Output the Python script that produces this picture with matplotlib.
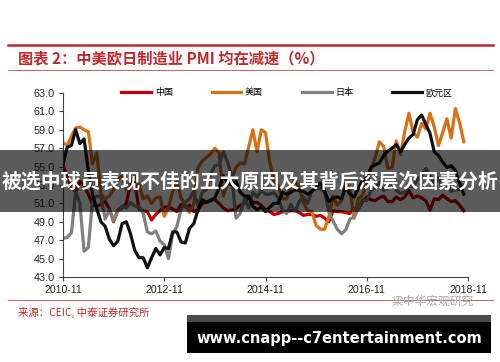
import numpy as np
import matplotlib
matplotlib.use("Agg")
import matplotlib.pyplot as plt
from matplotlib.patches import Rectangle
from matplotlib.lines import Line2D

plt.rcParams['font.family'] = ['Liberation Sans', 'Noto Sans CJK SC', 'DejaVu Sans']
CJK = ['Noto Sans CJK SC', 'DejaVu Sans']

# monthly PMI, 2010-11 .. 2018-10
china = [55.2, 53.9,
         52.9, 52.2, 53.4, 52.9, 52.0, 50.9, 50.7, 50.9, 51.2, 50.4, 49.0, 50.3,
         50.5, 51.0, 53.1, 53.3, 50.4, 50.2, 50.1, 49.2, 49.8, 50.2, 50.6, 50.6,
         50.4, 50.1, 50.9, 50.6, 50.8, 50.1, 50.3, 51.0, 51.1, 51.4, 51.4, 51.0,
         50.5, 50.2, 50.3, 50.4, 50.8, 51.0, 51.7, 51.1, 51.1, 50.8, 50.3, 50.1,
         49.8, 49.9, 50.1, 50.1, 50.2, 50.2, 50.0, 49.7, 49.8, 49.8, 49.6, 49.7,
         49.4, 49.0, 50.2, 50.1, 50.1, 50.0, 49.9, 50.4, 50.4, 51.2, 51.7, 51.4,
         51.3, 51.6, 51.8, 51.2, 51.2, 51.7, 51.4, 51.7, 52.4, 51.6, 51.8, 51.6,
         51.3, 50.3, 51.5, 51.4, 51.9, 51.5, 51.2, 51.3, 50.8, 50.2]
usa = [57.6, 57.3,
       58.3, 59.2, 59.3, 59.0, 58.8, 55.3, 56.5, 52.0, 51.5, 51.8, 52.5, 53.5,
       54.0, 52.5, 53.4, 54.0, 53.0, 51.5, 51.8, 51.0, 51.6, 51.7, 49.6, 50.5,
       52.3, 53.3, 51.6, 50.8, 50.0, 51.0, 54.9, 55.6, 56.0, 56.4, 57.0, 56.5,
       51.8, 53.2, 53.7, 54.9, 55.4, 55.3, 57.1, 59.0, 56.6, 59.0, 58.7, 55.5,
       53.5, 52.9, 51.5, 51.5, 52.8, 53.5, 52.7, 51.1, 50.2, 50.1, 48.6, 48.2,
       48.2, 49.5, 51.8, 50.8, 51.3, 53.2, 52.6, 49.4, 51.5, 51.9, 53.2, 54.7,
       56.0, 57.7, 57.2, 54.8, 54.9, 57.8, 56.3, 58.8, 60.8, 58.7, 58.2, 59.7,
       59.1, 60.8, 59.3, 57.3, 58.7, 60.2, 58.1, 61.3, 59.8, 57.7]
japan = [47.2, 47.3,
         47.8, 52.3, 51.0, 45.8, 46.2, 51.3, 51.8, 51.7, 49.3, 50.3, 49.1, 50.2,
         50.7, 50.5, 51.1, 50.7, 50.7, 49.9, 47.9, 47.7, 48.0, 46.9, 46.5, 45.0,
         47.7, 48.5, 50.4, 51.1, 51.5, 52.3, 50.7, 52.2, 52.5, 54.2, 55.1, 55.2,
         56.6, 55.5, 53.9, 49.4, 49.9, 51.5, 50.5, 52.2, 51.7, 52.4, 52.0, 52.0,
         52.2, 51.6, 50.3, 49.9, 50.9, 50.1, 51.2, 51.7, 51.0, 52.4, 52.6, 52.6,
         52.3, 50.1, 49.1, 48.2, 47.7, 48.1, 49.3, 49.5, 50.4, 51.4, 51.3, 52.4,
         52.7, 53.3, 52.4, 52.7, 53.1, 52.4, 52.1, 52.2, 52.9, 52.8, 53.6, 54.0,
         54.8, 54.1, 53.1, 53.8, 52.8, 53.0, 52.3, 52.5, 52.5, 52.9]
euro = [55.3, 57.1,
        57.3, 59.0, 57.5, 58.0, 54.6, 52.0, 50.4, 49.0, 48.5, 47.1, 46.4, 46.9,
        48.8, 49.0, 47.7, 45.9, 45.1, 45.1, 44.0, 45.1, 46.1, 45.4, 46.2, 46.1,
        47.9, 47.9, 46.8, 46.7, 48.3, 48.8, 50.3, 51.4, 51.1, 51.3, 51.6, 52.7,
        54.0, 53.2, 53.0, 53.4, 52.2, 51.8, 51.8, 50.7, 50.3, 50.6, 50.1, 50.6,
        51.0, 51.0, 52.2, 52.0, 52.2, 52.5, 52.4, 52.3, 52.0, 52.3, 52.8, 53.2,
        52.3, 51.2, 51.6, 51.7, 51.5, 52.8, 52.0, 51.7, 52.6, 53.5, 53.7, 54.9,
        55.2, 55.4, 56.2, 56.7, 57.0, 57.4, 56.6, 57.4, 58.1, 58.5, 60.1, 60.6,
        59.6, 58.6, 56.6, 56.2, 55.5, 54.9, 55.1, 54.6, 53.2, 52.0]

names = ['中国', '美国', '日本', '欧元区']
colors = ['#C00000', '#D97016', '#7F7F7F', '#111111']
tick_labels = ['2010-11', '2012-11', '2014-11', '2016-11', '2018-11']

x = np.arange(len(china))

fig = plt.figure(figsize=(5, 3.62), dpi=100)
ax = fig.add_axes([0.126, 0.2348, 0.81, 0.5083])

for s, n, c in zip([china, usa, japan, euro], names, colors):
    ax.plot(x, s, color=c, lw=2.3, label=n)

ax.set_xlim(0, 96)
ax.set_ylim(43, 63)
ax.set_yticks(np.arange(43, 63.1, 2))
ax.set_yticklabels([f'{v:.1f}' for v in np.arange(43, 63.1, 2)], fontsize=7.8, color='#222222')
ax.set_xticks([0, 24, 48, 72, 96])
ax.set_xticklabels(tick_labels, fontsize=7.6, color='#222222')
ax.tick_params(axis='both', length=3, width=0.8, color='#444444', pad=3)
for sp in ['top', 'right']:
    ax.spines[sp].set_visible(False)
for sp in ['left', 'bottom']:
    ax.spines[sp].set_color('#444444')
    ax.spines[sp].set_linewidth(0.8)

leg = ax.legend(loc='center', bbox_to_anchor=(0.553, 1.0), ncol=4, frameon=False,
                handlelength=3.3, handletextpad=0.4, columnspacing=4.3,
                prop={'family': CJK, 'size': 6.5})

# header / footer decoration
red = '#C0282D'
fig.add_artist(Line2D([8/500, 493/500], [1-45/362]*2, color=red, lw=1.8))
fig.add_artist(Line2D([8/500, 493/500], [1-70/362]*2, color='#C86060', lw=0.7))
fig.add_artist(Line2D([8/500, 493/500], [1-300/362]*2, color='#C86060', lw=0.7))
fig.text(18/500, 1-58/362, '图表 2：中美欧日制造业 PMI 均在减速（%）', color=red,
         fontsize=11, fontweight='bold', family=CJK, va='center', ha='left')
fig.text(18/500, 1-312/362, '来源：CEIC, 中泰证券研究所', color=red,
         fontsize=7.5, family=CJK, va='center', ha='left')
fig.text(392/500, 1-301/362, '梁中华宏观研究', color='#AAAAAA',
         fontsize=8.5, family=CJK, va='center', ha='left')

# overlay banner
fig.add_artist(Rectangle((0, 1-212/362), 1, 62/362, transform=fig.transFigure,
                         facecolor='black', alpha=0.64, edgecolor='none', zorder=10))
fig.text(0.5, 1-181/362, '被选中球员表现不佳的五大原因及其背后深层次因素分析', color='white',
         fontsize=14.3, fontweight='bold', family=CJK, ha='center', va='center', zorder=11)

# bottom box
fig.add_artist(Rectangle((187/500, 1-353/362), 304/500, 38/362, transform=fig.transFigure,
                         facecolor='black', edgecolor='none', zorder=10))
fig.add_artist(Rectangle((187/500, 1-322/362), 304/500, 7/362, transform=fig.transFigure,
                         facecolor='#4A4A4A', edgecolor='none', zorder=10))
fig.text(339/500, 1-338/362, 'www.cnapp--c7entertainment.com', color='white',
         fontsize=10.5, fontweight='bold', family='DejaVu Sans', ha='center', va='center', zorder=11)

fig.savefig('out.png', dpi=100, facecolor='white')
